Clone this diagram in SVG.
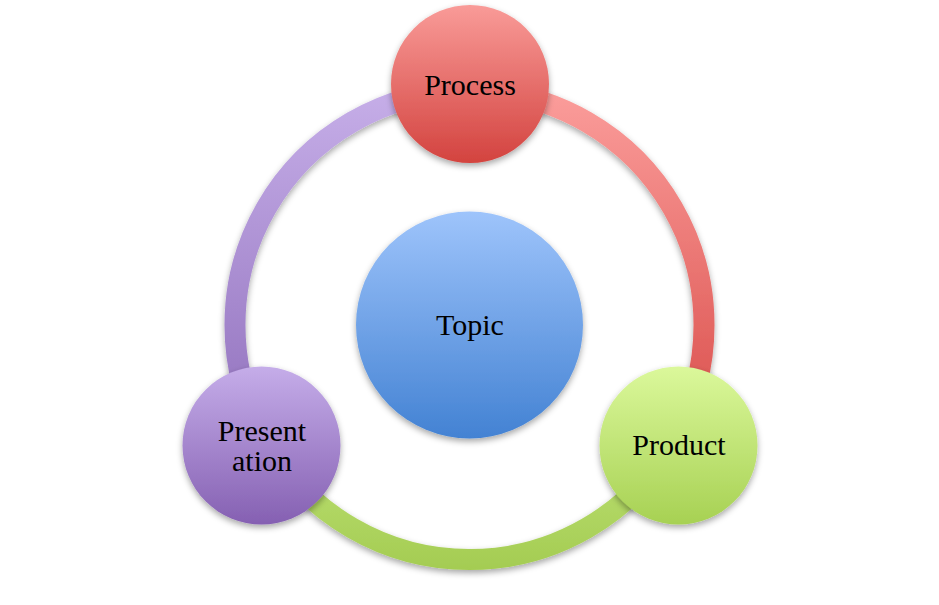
<svg xmlns="http://www.w3.org/2000/svg" width="939" height="605" viewBox="0 0 939 605">
  <defs>
    <filter id="shadow" x="-20%" y="-20%" width="140%" height="150%">
      <feDropShadow dx="0" dy="3" stdDeviation="3" flood-color="#000" flood-opacity="0.35"/>
    </filter>
    <linearGradient id="gArcRight" gradientUnits="userSpaceOnUse" x1="0" y1="90" x2="0" y2="442">
      <stop offset="0" stop-color="#FB9D9B"/>
      <stop offset="1" stop-color="#D94D49"/>
    </linearGradient>
    <linearGradient id="gArcLeft" gradientUnits="userSpaceOnUse" x1="0" y1="90" x2="0" y2="442">
      <stop offset="0" stop-color="#C6AEE8"/>
      <stop offset="1" stop-color="#9070BC"/>
    </linearGradient>
    <linearGradient id="gArcBottom" gradientUnits="userSpaceOnUse" x1="0" y1="442" x2="0" y2="570">
      <stop offset="0" stop-color="#BDE175"/>
      <stop offset="1" stop-color="#A4CC52"/>
    </linearGradient>
    <linearGradient id="gRed" x1="0" y1="0" x2="0" y2="1">
      <stop offset="0" stop-color="#F99B98"/>
      <stop offset="1" stop-color="#D3433F"/>
    </linearGradient>
    <linearGradient id="gGreen" x1="0" y1="0" x2="0" y2="1">
      <stop offset="0" stop-color="#DBF89B"/>
      <stop offset="1" stop-color="#A7D153"/>
    </linearGradient>
    <linearGradient id="gPurple" x1="0" y1="0" x2="0" y2="1">
      <stop offset="0" stop-color="#C5ADE9"/>
      <stop offset="1" stop-color="#8560B2"/>
    </linearGradient>
    <linearGradient id="gBlue" x1="0" y1="0" x2="0" y2="1">
      <stop offset="0" stop-color="#9EC4FB"/>
      <stop offset="1" stop-color="#4382D3"/>
    </linearGradient>
  </defs>
  <style>
    .arc { fill: none; stroke-width: 21; stroke-linecap: butt; filter: url(#shadow); }
    .node { filter: url(#shadow); }
    .label { font-family: "Liberation Serif", "Times New Roman", serif; font-size: 30px; fill: #000; text-anchor: middle; }
  </style>
  <rect width="939" height="605" fill="#FFFFFF"/>

  <g id="connectors">
    <path class="arc" stroke="url(#gArcRight)" d="M 469.5 90.5 A 234.5 234.5 0 0 1 672.6 442.25"/>
    <path class="arc" stroke="url(#gArcBottom)" d="M 672.6 442.25 A 234.5 234.5 0 0 1 266.4 442.25"/>
    <path class="arc" stroke="url(#gArcLeft)" d="M 266.4 442.25 A 234.5 234.5 0 0 1 469.5 90.5"/>
  </g>

  <g id="topic">
    <circle class="node" cx="469.5" cy="325" r="113.5" fill="url(#gBlue)"/>
    <text class="label" x="470" y="335">Topic</text>
  </g>

  <g id="process">
    <circle class="node" cx="470" cy="84" r="79" fill="url(#gRed)"/>
    <text class="label" x="470" y="95">Process</text>
  </g>

  <g id="product">
    <circle class="node" cx="678.5" cy="445.5" r="79" fill="url(#gGreen)"/>
    <text class="label" x="679" y="455">Product</text>
  </g>

  <g id="presentation">
    <circle class="node" cx="261.5" cy="445.5" r="79" fill="url(#gPurple)"/>
    <text class="label" x="262" y="441">Present</text>
    <text class="label" x="262" y="471">ation</text>
  </g>
</svg>
